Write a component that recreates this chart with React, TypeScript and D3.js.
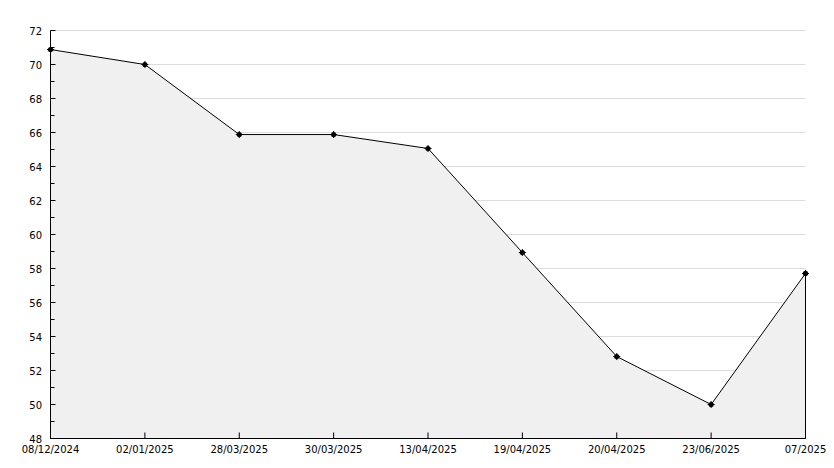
import React from "react";
import * as d3 from "d3";

const categories = ["08/12/2024", "02/01/2025", "28/03/2025", "30/03/2025", "13/04/2025", "19/04/2025", "20/04/2025", "23/06/2025", "07/2025"];
const values = [70.88, 70.0, 65.88, 65.88, 65.06, 58.94, 52.82, 50.0, 57.71];
const yTicks = [48, 50, 52, 54, 56, 58, 60, 62, 64, 66, 68, 70, 72];
const yMinor = [49, 51, 53, 55, 57, 59, 61, 63, 65, 67, 69, 71];

export default function App() {
  const W = 834, H = 468;
  const left = 50.5, right = 805.5, top = 30.5, bottom = 438.5;
  const x = d3.scalePoint<string>().domain(categories).range([left, right]);
  const y = d3.scaleLinear().domain([48, 72]).range([bottom, top]);
  const pts: [number, number][] = values.map((v, i) => [x(categories[i])!, y(v)]);
  const line = d3.line()(pts)!;
  const area = d3.area<[number, number]>().x(d => d[0]).y0(bottom).y1(d => d[1])(pts)!;
  const font = "'DejaVu Sans', Verdana, sans-serif";
  const last = pts[pts.length - 1];
  return (
    <svg width={W} height={H} style={{ position: "absolute", left: 0, top: 0, background: "#fff" }}>
      {yTicks.map(t => (
        <line key={"g" + t} x1={left} x2={right} y1={y(t)} y2={y(t)} stroke="#dcdcdc" strokeWidth={1} />
      ))}
      <path d={area} fill="#f0f0f0" />
      <line x1={last[0]} x2={last[0]} y1={last[1]} y2={bottom} stroke="#000" strokeWidth={1} />
      <path d={line} fill="none" stroke="#000" strokeWidth={1} />
      <line x1={left} x2={left} y1={top} y2={bottom} stroke="#000" strokeWidth={1} />
      <line x1={left} x2={right} y1={bottom} y2={bottom} stroke="#000" strokeWidth={1} />
      {yTicks.map(t => (
        <g key={"t" + t}>
          <line x1={left} x2={left + 5} y1={y(t)} y2={y(t)} stroke="#000" />
          <text x={42} y={y(t) + 4} textAnchor="end" fontFamily={font} fontSize={10} fill="#000">{t}</text>
        </g>
      ))}
      {yMinor.map(t => (
        <line key={"m" + t} x1={left} x2={left + 4} y1={y(t)} y2={y(t)} stroke="#000" />
      ))}
      {categories.map(c => (
        <g key={c}>
          <line x1={x(c)!} x2={x(c)!} y1={bottom} y2={bottom - 6} stroke="#000" />
          <text x={x(c)!} y={bottom + 14} textAnchor="middle" fontFamily={font} fontSize={10} fill="#000">{c}</text>
        </g>
      ))}
      {pts.map((p, i) => (
        <g key={"p" + i}>
          <circle cx={p[0]} cy={p[1]} r={2.6} fill="#000" />
          <line x1={p[0] - 3.5} x2={p[0] + 3.5} y1={p[1]} y2={p[1]} stroke="#000" />
          <line x1={p[0]} x2={p[0]} y1={p[1] - 3.5} y2={p[1] + 3.5} stroke="#000" />
        </g>
      ))}
    </svg>
  );
}
